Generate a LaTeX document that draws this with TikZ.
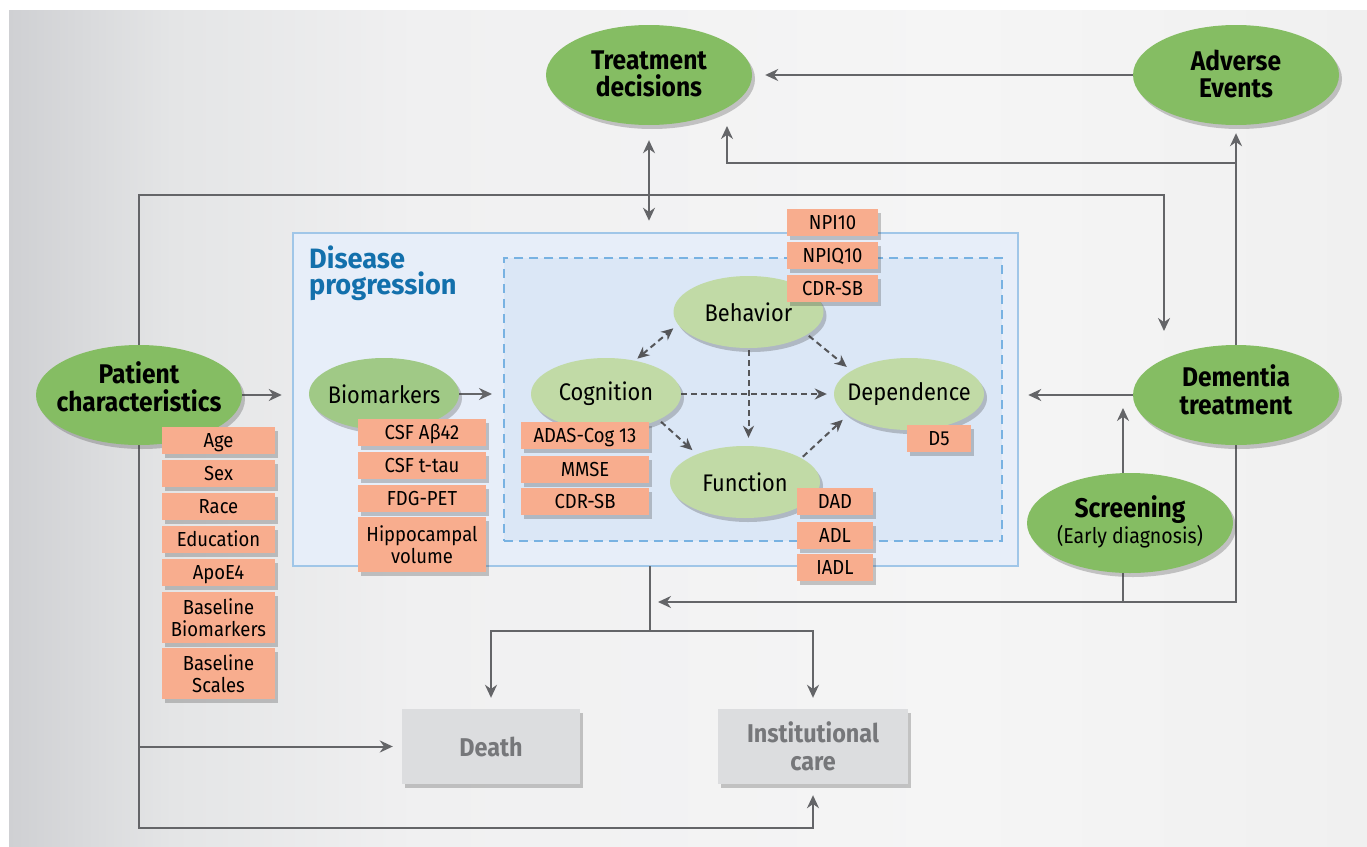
\documentclass[tikz,border=0pt]{standalone}
\usepackage{fontspec}
\setmainfont{Fira Sans}[FakeStretch=0.91]
\newfontfamily\titlefam{Fira Sans}[FakeStretch=0.97]
\usetikzlibrary{shadows,arrows.meta,shapes.geometric}
\pgfdeclarelayer{back}
\pgfdeclarelayer{lines}
\pgfsetlayers{back,lines,main}
\definecolor{gbig}{RGB}{133,189,99}
\definecolor{gmid}{RGB}{160,201,134}
\definecolor{glight}{RGB}{193,218,166}
\definecolor{tagc}{RGB}{248,173,142}
\definecolor{arrc}{RGB}{100,101,104}
\definecolor{darrc}{RGB}{85,86,89}
\definecolor{dpfill}{RGB}{231,238,249}
\definecolor{dpline}{RGB}{160,198,232}
\definecolor{dashfill}{RGB}{219,231,246}
\definecolor{dashline}{RGB}{120,178,226}
\definecolor{titleblue}{RGB}{19,112,172}
\definecolor{greybox}{RGB}{220,221,223}
\definecolor{greytext}{RGB}{118,119,122}
\definecolor{bga}{RGB}{207,208,211}
\definecolor{bgb}{RGB}{228,229,230}
\definecolor{bgc}{RGB}{240,240,241}
\definecolor{bgd}{RGB}{245,245,245}
\definecolor{bge}{RGB}{240,240,240}
\pgfdeclarehorizontalshading{bgshade}{100bp}{color(0bp)=(bga); color(25bp)=(bga); color(31bp)=(bgb); color(40bp)=(bgc); color(60bp)=(bgd); color(75bp)=(bge); color(100bp)=(bge)}
\begin{document}
\begin{tikzpicture}[x=1pt,y=-1pt,
  arr/.style={draw=arrc, line width=2pt, -{Stealth[length=13pt,width=12pt]}},
  ln/.style={draw=arrc, line width=2pt},
  darr/.style={draw=darrc, line width=2pt, dash pattern=on 6pt off 4pt, -{Stealth[length=12pt,width=11pt]}},
  shad/.style={drop shadow={shadow xshift=3pt, shadow yshift=-4pt, opacity=0.28, fill=black!75}},
  bigell/.style={ellipse, fill=gbig, minimum width=206pt, minimum height=100pt, inner sep=0pt, shad},
  midell/.style={ellipse, fill=gmid, minimum width=150pt, minimum height=72pt, inner sep=0pt, shad},
  lightell/.style={ellipse, fill=glight, minimum width=150pt, minimum height=72pt, inner sep=0pt, shad},
  bigtxt/.style={font=\fontsize{27}{27.5}\selectfont\bfseries, align=center, inner sep=0pt},
  elltxt/.style={font=\fontsize{24}{26}\selectfont, inner sep=0pt},
  tagbox/.style={rectangle, fill=tagc, inner sep=0pt, font=\fontsize{20.3}{22}\selectfont, align=center, shad, minimum height=27pt, text height=17pt, text depth=2.5pt},
  tagtwo/.style={rectangle, fill=tagc, inner sep=0pt, font=\fontsize{20.3}{22}\selectfont, align=center, shad},
  gbox/.style={rectangle, fill=greybox, inner sep=0pt, font=\fontsize{25.7}{28}\selectfont\bfseries, text=greytext, align=center, shad, minimum height=75pt}
]
\useasboundingbox (0,0) rectangle (1367,846);
\begin{pgfonlayer}{back}
  \fill[white] (0,0) rectangle (1367,846);
  \shade[shading=bgshade] (9,10) rectangle (1367,846);
  \node[draw=dpline, line width=2.5pt, fill=dpfill, minimum width=725pt, minimum height=333pt, inner sep=0pt] (dp) at (655.5,399.5) {};
  \node[draw=dashline, line width=2pt, dash pattern=on 9pt off 6pt, fill=dashfill, minimum width=498pt, minimum height=283pt, inner sep=0pt] (db) at (753,399.5) {};
\end{pgfonlayer}

% title of the disease box
\node[anchor=north west, font=\titlefam\fontsize{28}{26}\selectfont\bfseries, text=titleblue, align=left, inner sep=0pt] (dpt) at (309,246) {Disease\\progression};

% big ellipses
\node[bigell] (td) at (649,75) {};
\node[bigell] (ae) at (1236,75) {};
\node[bigell] (pc) at (139,395) {};
\node[bigell] (dt) at (1236,395) {};
\node[bigell] (scr) at (1130,523) {};
\node[bigtxt] (td-t) at (649,74) {Treatment\\decisions};
\node[bigtxt] (ae-t) at (1236,74) {Adverse\\Events};
\node[bigtxt] (pc-t) at (139,387) {Patient\\characteristics};
\node[bigtxt] (dt-t) at (1236,390) {Dementia\\treatment};
\node[align=center, inner sep=0pt, font=\fontsize{21.5}{26}\selectfont] (scr-t) at (1130,522) {{\fontsize{27}{26}\selectfont\bfseries Screening}\\(Early diagnosis)};

% inner ellipses
\node[midell] (bio) at (384,394) {};
\node[lightell] (cog) at (606,394) {};
\node[lightell] (beh) at (748.5,312) {};
\node[lightell] (dep) at (909,394) {};
\node[lightell] (fun) at (745,482) {};
\node[elltxt] (bio-t) at (bio) {Biomarkers};
\node[elltxt] (cog-t) at (cog) {Cognition};
\node[elltxt] (beh-t) at (beh) {Behavior};
\node[elltxt] (dep-t) at (dep) {Dependence};
\node[elltxt] (fun-t) at (fun) {Function};

% patient tags
\node[tagbox, minimum width=113pt] (p1) at (218.5,440) {Age};
\node[tagbox, minimum width=113pt] (p2) at (218.5,473) {Sex};
\node[tagbox, minimum width=113pt] (p3) at (218.5,506) {Race};
\node[tagbox, minimum width=113pt] (p4) at (218.5,539) {Education};
\node[tagbox, minimum width=113pt] (p5) at (218.5,572.5) {ApoE4};
\node[tagtwo, minimum width=113pt, minimum height=51pt] (p6) at (218.5,617.5) {Baseline\\Biomarkers};
\node[tagtwo, minimum width=113pt, minimum height=51pt] (p7) at (218.5,673.5) {Baseline\\Scales};

% biomarker tags
\node[tagbox, minimum width=128pt] (b1t) at (422,432) {CSF Aβ42};
\node[tagbox, minimum width=128pt] (b2t) at (422,465) {CSF t-tau};
\node[tagbox, minimum width=128pt] (b3t) at (422,498) {FDG-PET};
\node[tagtwo, minimum width=128pt, minimum height=55pt] (b4t) at (422,544.5) {Hippocampal\\volume};

% cognition tags
\node[tagbox, minimum width=128pt] (c1t) at (585,435.5) {ADAS-Cog 13};
\node[tagbox, minimum width=128pt] (c2t) at (585,469.5) {MMSE};
\node[tagbox, minimum width=128pt] (c3t) at (585,501.5) {CDR-SB};

% behavior tags
\node[tagbox, minimum width=91pt] (h1t) at (832.5,222) {NPI10};
\node[tagbox, minimum width=91pt] (h2t) at (832.5,255) {NPIQ10};
\node[tagbox, minimum width=91pt] (h3t) at (832.5,288) {CDR-SB};

% dependence tag
\node[tagbox, minimum width=64pt] (d1t) at (939,438.5) {D5};

% function tags
\node[tagbox, minimum width=76pt] (f1t) at (835,501.5) {DAD};
\node[tagbox, minimum width=76pt] (f2t) at (835,535) {ADL};
\node[tagbox, minimum width=76pt] (f3t) at (835,567.5) {IADL};

% outcomes
\node[gbox, minimum width=178pt] (death) at (491,746.5) {Death};
\node[gbox, minimum width=190pt] (ic) at (813,746.5) {Institutional\\care};

% helper coordinates
\coordinate (c1) at (139,195);
\coordinate (c2) at (1164,195);
\coordinate (c2t) at (1164,331);
\coordinate (c4) at (139,828);
\coordinate (j1) at (1236,163);
\coordinate (j2) at (727,163);
\coordinate (j2t) at (727,126);
\coordinate (s1) at (1123,500);
\coordinate (s2) at (1123,408);
\coordinate (s3) at (1123,560);
\coordinate (bb1) at (1236,602);
\coordinate (bb2) at (658,602);
\coordinate (m0) at (650,566);
\coordinate (m1) at (650,631);

\begin{pgfonlayer}{lines}
  \draw[arr] (pc.center) -- (c1) -- (c2) -- (c2t);
  \draw[arr, shorten >=9pt] (pc.center) |- (death.west);
  \draw[arr, shorten >=11pt] (pc.center) -- (c4) -| (ic.south);
  \draw[arr, shorten >=13pt] (ae.west) -- (td.east);
  \draw[arr, shorten >=8pt] (dt.center) -- (ae.south);
  \draw[arr] (j1) -- (j2) -- (j2t);
  \draw[arr, {Stealth[length=13pt,width=12pt]}-{Stealth[length=13pt,width=12pt]}, shorten <=15pt, shorten >=11pt] (td.south) -- (td.south |- dp.north);
  \draw[arr, shorten >=10pt] (pc.east) -- (pc.east -| dp.west);
  \draw[arr, shorten >=11pt] (bio.east) -- (bio.east -| db.west);
  \draw[arr, shorten >=9pt] (dt.west) -- (dt.west -| dp.east);
  \draw[arr] (s1) -- (s2);
  \draw[arr] (dt.center) -- (bb1) -- (bb2);
  \draw[ln] (s3) -- (s3 |- bb1);
  \draw[arr, shorten >=11pt] (m0) -- (m1) -| (death.north);
  \draw[arr, shorten >=11pt] (m1) -| (ic.north);
  % dashed relations
  \draw[darr, {Stealth[length=12pt,width=11pt]}-{Stealth[length=12pt,width=11pt]}, shorten <=3pt, shorten >=6pt] (cog.49) -- (beh.190);
  \draw[darr, shorten >=7pt] (cog.east) -- (dep.west);
  \draw[darr, shorten <=2pt, shorten >=8pt] (beh.south) -- (beh.south |- fun.north);
  \draw[darr, shorten <=2pt, shorten >=6pt] (beh.-21) -- (dep.158);
  \draw[darr, shorten <=3pt, shorten >=6pt] (cog.-26) -- (fun.150);
  \draw[darr, shorten <=2pt, shorten >=7pt] (fun.23) -- (dep.199);
\end{pgfonlayer}
\end{tikzpicture}
\end{document}
